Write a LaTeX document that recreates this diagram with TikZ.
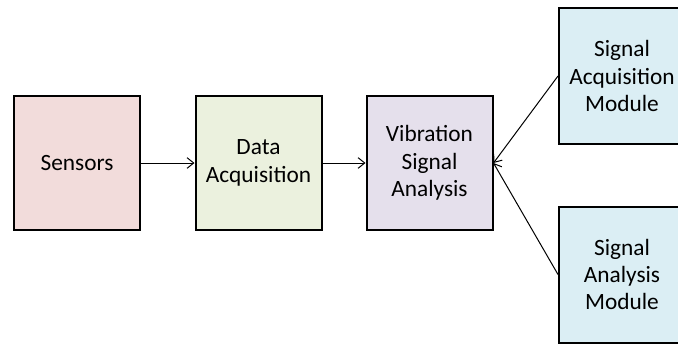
\documentclass[tikz,border=0pt]{standalone}
\usepackage{fontspec}
\setmainfont{Carlito}
\usetikzlibrary{arrows.meta, positioning}
\definecolor{sensfill}{HTML}{F2DCDB}
\definecolor{acqfill}{HTML}{EBF1DE}
\definecolor{vibfill}{HTML}{E5E0EC}
\definecolor{modfill}{HTML}{DBEEF4}
\tikzset{
    block/.style={draw, line width=1.5pt, minimum width=94.5pt, minimum height=100.5pt,
        align=center, font=\fontsize{17.5}{20.5}\selectfont},
    module/.style={block, fill=modfill, minimum height=102pt},
    link/.style={-{Straight Barb[length=5pt, width=8pt]}, line width=0.75pt}
}

\begin{document}
\begin{tikzpicture}[x=0.75pt, y=-0.75pt]
    % Page frame
    \useasboundingbox (0,0) rectangle (678,343);
    \clip (0,0) rectangle (678,343);
    % Main chain
    \node[block, fill=sensfill] (sensors) at (77,163) {Sensors};
    \node[block, fill=acqfill] (daq) at (258.5,163) {Data\\Acquisition};
    \node[block, fill=vibfill] (vsa) at (429.5,163) {Vibration\\Signal\\Analysis};
    % Modules (cut by the right edge)
    \node[module] (sam) at (622,76) {Signal\\Acquisition\\Module};
    \node[module] (sanm) at (622,274.5) {Signal\\Analysis\\Module};
    % Connectors
    \draw[link] (sensors) -- (daq);
    \draw[link] (daq) -- (vsa);
    \draw[link] (sam.west) -- (vsa.east);
    \draw[link] (sanm.west) -- (vsa.east);
\end{tikzpicture}
\end{document}
